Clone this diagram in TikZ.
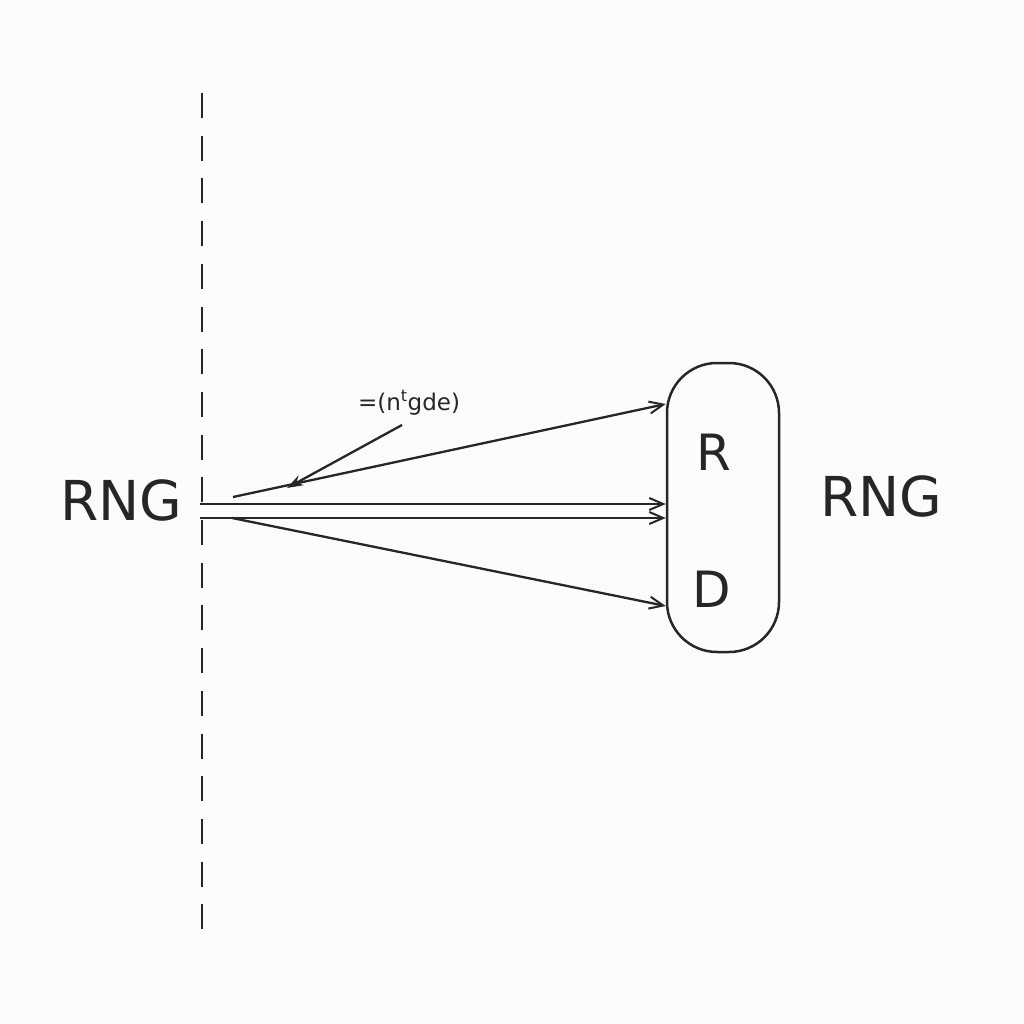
\documentclass[tikz,border=0pt]{standalone}
\usepackage{fontspec}
\setmainfont{DejaVu Sans}
\usetikzlibrary{arrows.meta}
\begin{document}
\begin{tikzpicture}[x=1pt,y=-1pt,
  ln/.style={line width=2.3pt,draw=black!85},
  arr/.style={ln,-{Straight Barb[length=14pt,width=12pt,line width=2pt]}},
  big/.style={font=\fontsize{55}{55}\selectfont,text=black!85},
  mid/.style={font=\fontsize{50}{50}\selectfont,text=black!85}]
\fill[white!99!black] (0,0) rectangle (1024,1024);
\useasboundingbox (0,0) rectangle (1024,1024);
% dashed axis
\coordinate (top) at (202,93);
\coordinate (bot) at (202,930);
\draw[ln,dash pattern=on 25pt off 17.7pt] (top) -- (bot);
% labels
\node[big] (lrng) at (121,500) {RNG};
\node[big] (rrng) at (881,496) {RNG};
% box
\node[draw=black!85,line width=2.5pt,rounded corners=50pt,minimum width=112pt,minimum height=289pt,inner sep=0pt] (box) at (723,507.5) {};
\node[mid] (R) at (714,452) {R};
\node[mid] (D) at (712,589) {D};
% start points
\coordinate (s1) at (233,497);
\coordinate (s2) at (200,504);
\coordinate (s3) at (200,518);
\coordinate (s4) at (232,518);
\coordinate (e1) at (box.west |- 0,404);
\coordinate (e2) at (box.west |- 0,504);
\coordinate (e3) at (box.west |- 0,518);
\coordinate (e4) at (box.west |- 0,606);
\draw[arr] (s1) -- (e1);
\draw[arr] (s2) -- (e2);
\draw[arr] (s3) -- (e3);
\draw[arr] (s4) -- (e4);
% annotation
\node[font=\fontsize{23}{23}\selectfont,text=black!85] (lab) at (409,403) {=(n\textsuperscript{t}gde)};
\coordinate (a0) at (402,425);
\coordinate (a1) at (287,488);
\draw[ln,-{Stealth[length=16pt,width=11pt]}] (a0) -- (a1);
\end{tikzpicture}
\end{document}
